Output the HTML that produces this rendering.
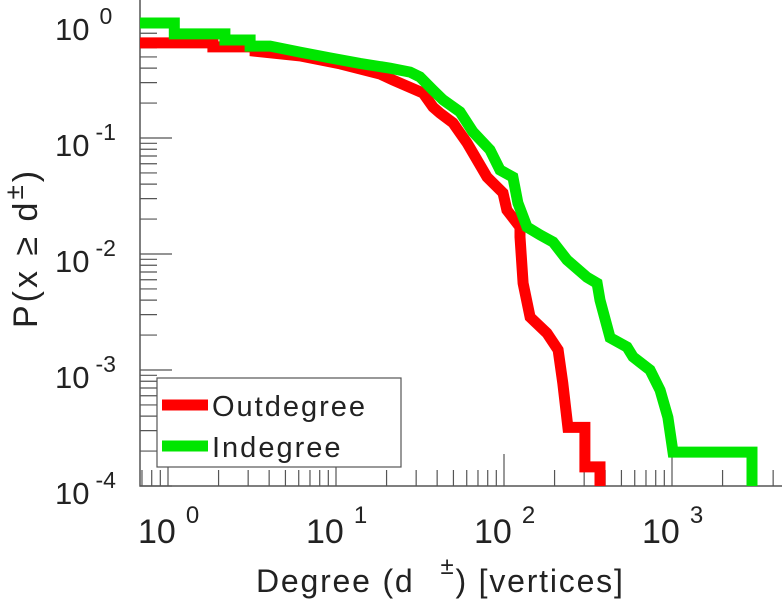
<!DOCTYPE html>
<html><head><meta charset="utf-8"><style>
html,body{margin:0;padding:0;background:#fff;}
svg{display:block;font-family:"Liberation Sans",sans-serif;}
</style></head><body>
<svg id="chart" width="782" height="600" viewBox="0 0 782 600">
<g id="grid-axes"></g>
<g id="series"></g>
<g id="labels"></g>
<g id="legend">
  <rect x="157" y="378" width="244" height="89" fill="#fff" stroke="#555" stroke-width="1.2"/>
  <line x1="162" y1="405" x2="208" y2="405" stroke="#ff0000" stroke-width="11"/>
  <text x="212" y="416" font-size="29" letter-spacing="2" fill="#222">Outdegree</text>
  <line x1="162" y1="446" x2="208" y2="446" stroke="#00e600" stroke-width="11"/>
  <text x="212" y="457" font-size="29" letter-spacing="2" fill="#222">Indegree</text>
</g>
<text x="256" y="592" font-size="32" letter-spacing="1.8" fill="#222">Degree (d<tspan dx="26" dy="-18" font-size="24">±</tspan><tspan dy="18">) [vertices]</tspan></text>
<text transform="translate(37,328) rotate(-90)" font-size="34" letter-spacing="3" fill="#222">P(x ≥ d<tspan dy="-14" font-size="26">±</tspan><tspan dy="14">)</tspan></text>
</svg>
<script>
const outDeg = [0.68,1.85,1.85,3.3,3.3,6.1,10.6,18.3,21.8,33,37.8,41.6,49.7,60.3,79.3,98.6,104,124.5,124.5,130,143,180,210,224,240,303,303,373,373];
const outProb = [0.66,0.66,0.61,0.61,0.56,0.51,0.435,0.356,0.316,0.244,0.185,0.164,0.135,0.0905,0.046,0.0336,0.0239,0.0171,0.014,0.0056,0.00286,0.00208,0.00149,0.00077,0.00032,0.00032,0.000146,0.000146,0.00008];
const inDeg = [0.68,1.09,1.09,2.18,2.18,3.08,3.08,4.05,6.1,9.2,13.9,21,27.6,31.6,37.8,43.4,54.7,65.3,82.5,94.7,113,121,137,164,196,237,312,358,373,428,540,586,740,849,946,1014,1014,2992,2992];
const inProb = [0.98,0.98,0.79,0.79,0.70,0.70,0.62,0.62,0.55,0.49,0.44,0.40,0.37,0.336,0.259,0.213,0.168,0.113,0.079,0.053,0.046,0.0275,0.0171,0.0146,0.0127,0.0089,0.0063,0.0056,0.0040,0.0019,0.00158,0.0013,0.0010,0.00067,0.00039,0.000196,0.000196,0.000196,0.00008];
const xTickExps = [0,1,2,3];
const yTickExps = [0,-1,-2,-3,-4];

const NS = "http://www.w3.org/2000/svg";
const X0 = 168, XDEC = 168, Y0 = 22, YDEC = 116, LEFT = 140, BOTTOM = 486, RIGHT = 782;
function xs(v){ return X0 + Math.log10(v) * XDEC; }
function ys(v){ return Y0 - Math.log10(v) * YDEC; }
function mk(tag, attrs, parent){ const e=document.createElementNS(NS,tag); for(const k in attrs) e.setAttribute(k,attrs[k]); parent.appendChild(e); return e; }

const axes = document.getElementById('grid-axes');
const ax = mk('path',{d:`M${LEFT},0 V${BOTTOM} H${RIGHT}`,fill:'none',stroke:'#555','stroke-width':1.5},axes);


for (let e=-1;e<=3;e++){
  for (let m=1;m<=9;m++){
    const v = m*Math.pow(10,e); const px = xs(v);
    if (px < LEFT || px > RIGHT) continue;
    const len = m===1?32:16;
    const t = mk('line',{x1:px,x2:px,y1:BOTTOM,y2:BOTTOM-len,stroke:'#555','stroke-width':1.2},axes);
    
    
  }
}
for (let e=-4;e<=0;e++){
  for (let m=1;m<=9;m++){
    const v = m*Math.pow(10,e); const py = ys(v);
    if (py < 0 || py > BOTTOM) continue;
    const len = m===1?32:17;
    const t = mk('line',{x1:LEFT,x2:LEFT+len,y1:py,y2:py,stroke:'#555','stroke-width':1.2},axes);
    
    
  }
}
const labels = document.getElementById('labels');
xTickExps.forEach(e=>{
  const px = xs(Math.pow(10,e));
  const t = mk('text',{x:px-30,y:543,'font-size':34,fill:'#222'},labels);
  t.innerHTML = `10<tspan dx="10" dy="-20" font-size="24">${e}</tspan>`;
  
  
});
yTickExps.forEach(e=>{
  const py = ys(Math.pow(10,e));
  const t = mk('text',{x:55,y:py+18,'font-size':31,fill:'#222'},labels);
  t.innerHTML = `10<tspan dx="${e<0?6:10}" dy="-16" font-size="23">${e}</tspan>`;
  
  
});
const clip = mk('clipPath',{id:'plotclip'},document.getElementById('chart'));
mk('rect',{x:LEFT,y:0,width:RIGHT-LEFT,height:BOTTOM},clip);
const ser = document.getElementById('series');
function drawSeries(xsArr, ysArr, color, name){
  const d = xsArr.map((v,i)=>(i?'L':'M')+xs(v).toFixed(1)+','+ys(ysArr[i]).toFixed(1)).join(' ');
  const p = mk('path',{d:d,fill:'none',stroke:color,'stroke-width':11,'stroke-linejoin':'miter','clip-path':'url(#plotclip)'},ser);
  
  
}
drawSeries(outDeg,outProb,'#ff0000','outdegree-line');
drawSeries(inDeg,inProb,'#00e600','indegree-line');
</script>
</body></html>
